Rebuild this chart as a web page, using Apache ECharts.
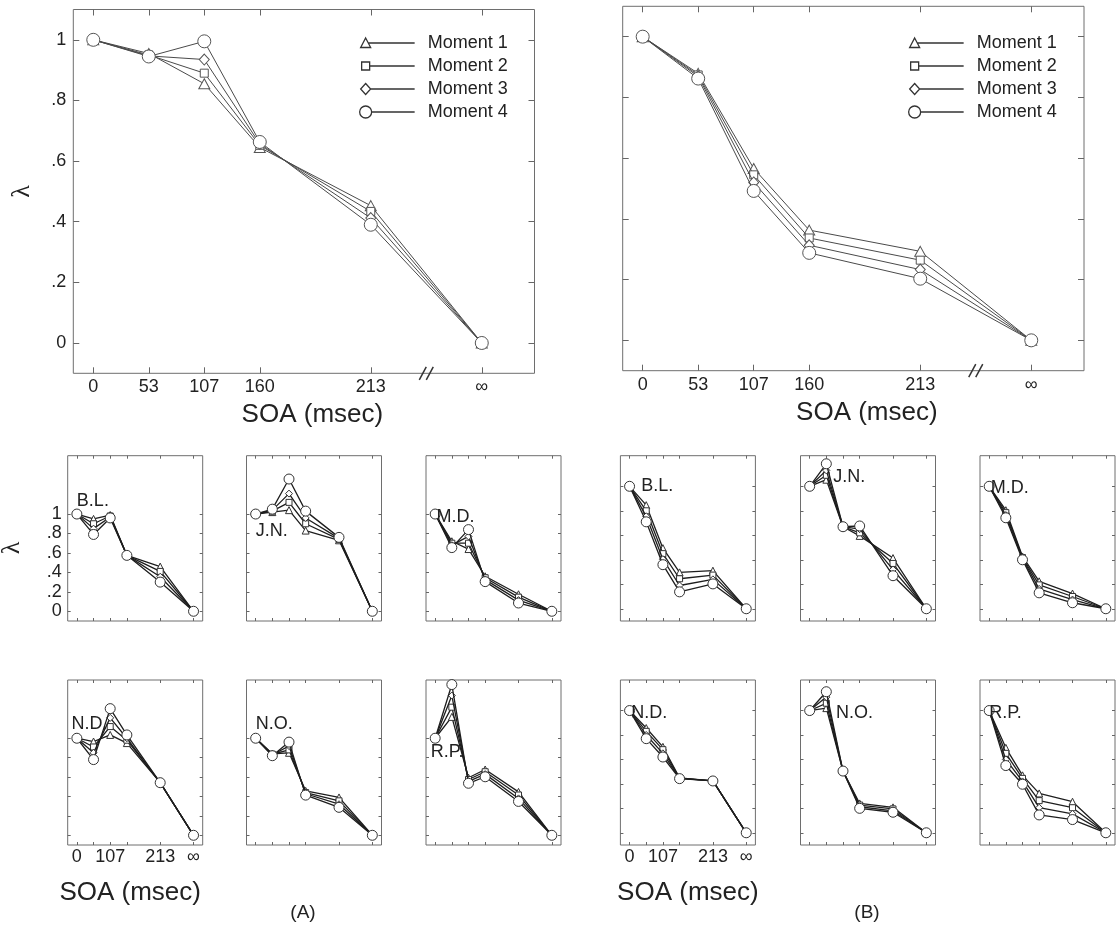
<!DOCTYPE html>
<html><head><meta charset="utf-8">
<script src="https://cdn.jsdelivr.net/npm/echarts@6/dist/echarts.min.js"></script>
<style>html,body{margin:0;padding:0;background:#fff}#c{width:1117px;height:927px}</style>
</head><body><div id="c"></div>
<script>
// ---------- data ----------
const xPositions = [0, 1, 2, 3, 5, 7];              // axis positions of the SOA levels
const xTickLabels = ['0', '53', '107', '160', '213', '∞'];
const smallXLabelPositions = [0, 2, 5, 7];
const smallXTickLabels = ['0', '107', '213', '∞'];
const yTickValues = [0, 0.2, 0.4, 0.6, 0.8, 1];
const yTickLabels = ['0', '.2', '.4', '.6', '.8', '1'];
const momentNames = ['Moment 1', 'Moment 2', 'Moment 3', 'Moment 4'];

// rows: Moment 1..4 ; columns: SOA 0, 53, 107, 160, 213, ∞
const A_pooled = [
  [1, 0.955, 0.855, 0.645, 0.453, 0],
  [1, 0.950, 0.890, 0.652, 0.434, 0],
  [1, 0.947, 0.935, 0.657, 0.412, 0],
  [1, 0.945, 0.995, 0.663, 0.390, 0]
];
const B_pooled = [
  [1, 0.879, 0.566, 0.363, 0.293, 0],
  [1, 0.874, 0.545, 0.337, 0.264, 0],
  [1, 0.869, 0.520, 0.313, 0.233, 0],
  [1, 0.862, 0.492, 0.288, 0.203, 0]
];
const A_BL = [
  [1, 0.95, 0.99, 0.575, 0.46, 0],
  [1, 0.90, 0.98, 0.575, 0.41, 0],
  [1, 0.85, 0.97, 0.575, 0.355, 0],
  [1, 0.79, 0.96, 0.575, 0.30, 0]
];
const A_JN = [
  [1, 1.02, 1.04, 0.83, 0.73, 0],
  [1, 1.03, 1.12, 0.90, 0.74, 0],
  [1, 1.04, 1.21, 0.96, 0.75, 0],
  [1, 1.05, 1.36, 1.03, 0.76, 0]
];
const A_MD = [
  [1, 0.72, 0.64, 0.36, 0.175, 0],
  [1, 0.70, 0.70, 0.345, 0.145, 0],
  [1, 0.68, 0.77, 0.325, 0.115, 0],
  [1, 0.655, 0.84, 0.305, 0.085, 0]
];
const A_ND = [
  [1, 0.966, 1.034, 0.95, 0.542, 0],
  [1, 0.91, 1.12, 0.98, 0.542, 0],
  [1, 0.85, 1.21, 1.00, 0.542, 0],
  [1, 0.78, 1.305, 1.034, 0.542, 0]
];
const A_NO = [
  [1, 0.84, 0.85, 0.458, 0.39, 0],
  [1, 0.835, 0.88, 0.44, 0.355, 0],
  [1, 0.828, 0.92, 0.428, 0.32, 0],
  [1, 0.82, 0.96, 0.414, 0.288, 0]
];
const A_RP = [
  [1, 1.22, 0.593, 0.678, 0.447, 0],
  [1, 1.32, 0.575, 0.655, 0.415, 0],
  [1, 1.44, 0.555, 0.63, 0.38, 0],
  [1, 1.553, 0.536, 0.603, 0.349, 0]
];
const B_BL = [
  [1, 0.846, 0.495, 0.297, 0.311, 0],
  [1, 0.80, 0.45, 0.245, 0.275, 0],
  [1, 0.755, 0.405, 0.19, 0.24, 0],
  [1, 0.71, 0.36, 0.138, 0.203, 0]
];
const B_JN = [
  [1, 1.054, 0.67, 0.595, 0.414, 0],
  [1, 1.09, 0.67, 0.62, 0.37, 0],
  [1, 1.13, 0.67, 0.65, 0.32, 0],
  [1, 1.184, 0.67, 0.676, 0.27, 0]
];
const B_MD = [
  [1, 0.805, 0.427, 0.224, 0.124, 0],
  [1, 0.785, 0.418, 0.195, 0.10, 0],
  [1, 0.765, 0.409, 0.162, 0.075, 0],
  [1, 0.743, 0.40, 0.13, 0.049, 0]
];
const B_ND = [
  [1, 0.857, 0.703, 0.45, 0.424, 0],
  [1, 0.83, 0.68, 0.447, 0.424, 0],
  [1, 0.80, 0.65, 0.445, 0.424, 0],
  [1, 0.77, 0.62, 0.443, 0.424, 0]
];
const B_NO = [
  [1, 1.02, 0.505, 0.24, 0.208, 0],
  [1, 1.06, 0.505, 0.227, 0.195, 0],
  [1, 1.11, 0.505, 0.213, 0.18, 0],
  [1, 1.154, 0.505, 0.20, 0.168, 0]
];
const B_RP = [
  [1, 0.695, 0.47, 0.322, 0.254, 0],
  [1, 0.65, 0.445, 0.263, 0.205, 0],
  [1, 0.60, 0.42, 0.205, 0.155, 0],
  [1, 0.55, 0.397, 0.146, 0.108, 0]
];

// ---------- layout ----------
const FONT = "'Liberation Sans', Arial, Helvetica, 'DejaVu Sans', sans-serif";
const TXT = '#222';
const panels = [
  {data: A_pooled, big: true, rect: [73.3, 9.5, 461.2, 363.8], yMax: 1.1, yLabels: true, xLabels: 'all', xNamePad: [0, 0, 0, 17], yName: true},
  {data: B_pooled, big: true, rect: [622.7, 6.3, 461.3, 364.4], yMax: 1.1, xLabels: 'all', xNamePad: [0, 0, 0, 27]},
  {data: A_BL, rect: [67.7, 455.7, 135, 165.3], yMax: 1.6, yLabels: true, name: 'B.L.', nameAt: [0.0, 1.136]},
  {data: A_JN, rect: [246.5, 455.7, 135, 165.3], yMax: 1.6, name: 'J.N.', nameAt: [0.0, 0.824]},
  {data: A_MD, rect: [426, 455.7, 135, 165.3], yMax: 1.6, name: 'M.D.', nameAt: [0.08, 0.973]},
  {data: A_ND, rect: [67.7, 680, 135, 165], yMax: 1.6, xLabels: 'small', xNamePad: [0, 10, 0, 0], name: 'N.D.', nameAt: [-0.32, 1.143]},
  {data: A_NO, rect: [246.5, 680, 135, 165], yMax: 1.6, name: 'N.O.', nameAt: [0.0, 1.143]},
  {data: A_RP, rect: [426, 680, 135, 165], yMax: 1.6, name: 'R.P.', nameAt: [-0.26, 0.853]},
  {data: B_BL, rect: [620.4, 455.7, 135, 165.3], yMax: 1.25, name: 'B.L.', nameAt: [0.7, 1.0]},
  {data: B_JN, rect: [800.5, 455.7, 135, 165.3], yMax: 1.25, name: 'J.N.', nameAt: [1.42, 1.073]},
  {data: B_MD, rect: [980, 455.7, 135, 165.3], yMax: 1.25, name: 'M.D.', nameAt: [0.1, 0.986]},
  {data: B_ND, rect: [620.4, 680, 135, 165], yMax: 1.25, xLabels: 'small', xNamePad: [0, 0, 0, 0], name: 'N.D.', nameAt: [0.1, 0.98]},
  {data: B_NO, rect: [800.5, 680, 135, 165], yMax: 1.25, name: 'N.O.', nameAt: [1.58, 0.98]},
  {data: B_RP, rect: [980, 680, 135, 165], yMax: 1.25, name: 'R.P.', nameAt: [0.0, 0.98]}
];
const symbols = ['triangle', 'rect', 'diamond', 'circle'];
const bigStyle = {line: '#4a4a4a', width: 1, border: '#555', sizes: [[11, 10], 8, [10, 11], 13], tick: 6};
const smallStyle = {line: '#1e1e1e', width: 1.3, border: '#333', sizes: [7, 6, 7, 10], tick: 3};

function lookup(vals, labels) {
  return function (v) {
    const i = vals.findIndex(t => Math.abs(t - v) < 1e-6);
    return i >= 0 ? labels[i] : '';
  };
}

const grids = [], xAxes = [], yAxes = [], series = [];
const noLine = {show: false, onZero: false};
panels.forEach((p, pi) => {
  const st = p.big ? bigStyle : smallStyle;
  const xMin = p.big ? -0.36 : -0.55, xMax = p.big ? 7.95 : 7.55;
  grids.push({left: p.rect[0], top: p.rect[1], width: p.rect[2], height: p.rect[3],
    show: true, borderColor: '#6e6e6e', borderWidth: 1, backgroundColor: 'transparent',
    containLabel: false, outerBoundsMode: 'none'});
  const tickX = {show: true, inside: true, length: st.tick, customValues: xPositions, lineStyle: {color: '#666', width: 1}};
  const tickY = {show: true, inside: true, length: st.tick, customValues: yTickValues, lineStyle: {color: '#666', width: 1}};
  const xLab = p.xLabels === 'all'
    ? {show: true, customValues: xPositions, formatter: lookup(xPositions, xTickLabels), fontSize: 18, color: TXT, fontFamily: FONT, margin: 5}
    : p.xLabels === 'small'
      ? {show: true, customValues: smallXLabelPositions, formatter: lookup(smallXLabelPositions, smallXTickLabels), fontSize: 18, color: TXT, fontFamily: FONT, margin: 3}
      : {show: false};
  const xNameCfg = p.xLabels
    ? {name: 'SOA (msec)', nameLocation: 'middle', nameGap: p.big ? 29 : 35,
       nameTextStyle: {fontSize: 26, color: TXT, fontFamily: FONT, padding: p.xNamePad}}
    : {};
  xAxes.push(Object.assign({gridIndex: pi, type: 'value', position: 'bottom', min: xMin, max: xMax,
    axisLine: noLine, axisTick: tickX, axisLabel: xLab, splitLine: {show: false}}, xNameCfg));
  xAxes.push({gridIndex: pi, type: 'value', position: 'top', min: xMin, max: xMax,
    axisLine: noLine, axisTick: tickX, axisLabel: {show: false}, splitLine: {show: false}});
  const yLab = p.yLabels
    ? {show: true, customValues: yTickValues, formatter: lookup(yTickValues, yTickLabels), fontSize: 18, color: TXT, fontFamily: FONT, margin: p.big ? 7 : 6}
    : {show: false};
  const yNameCfg = p.yName
    ? {name: 'λ', nameLocation: 'middle', nameGap: 38, nameRotate: 90, nameTextStyle: {fontSize: 26, color: TXT, fontFamily: "'Liberation Serif', 'DejaVu Serif', serif"}}
    : {};
  yAxes.push(Object.assign({gridIndex: pi, type: 'value', position: 'left', min: -0.1, max: p.yMax,
    axisLine: noLine, axisTick: tickY, axisLabel: yLab, splitLine: {show: false}}, yNameCfg));
  yAxes.push({gridIndex: pi, type: 'value', position: 'right', min: -0.1, max: p.yMax,
    axisLine: noLine, axisTick: tickY, axisLabel: {show: false}, splitLine: {show: false}});
  for (let m = 0; m < 4; m++) {
    series.push({
      type: 'line', name: momentNames[m], xAxisIndex: 2 * pi, yAxisIndex: 2 * pi,
      data: xPositions.map((x, i) => [x, p.data[m][i]]),
      symbol: symbols[m], symbolSize: st.sizes[m], showAllSymbol: true,
      lineStyle: {color: st.line, width: st.width},
      itemStyle: {color: '#fff', borderColor: st.border, borderWidth: 1},
      z: 2 + m, silent: true, emphasis: {disabled: true}, animation: false
    });
  }
});

const legendIcons = [
  'path://M0 0M64 14M7 2L12 11.5L2 11.5ZM9.6 7L56 7',
  'path://M0 0M64 14M3 3L11 3L11 11L3 11ZM11 7L56 7',
  'path://M0 0M64 14M7 1.5L12 7L7 12.5L2 7ZM12 7L56 7',
  'path://M0 0M64 14M13 7A6 6 0 1 1 1 7A6 6 0 1 1 13 7ZM13 7L56 7'
];
const legendData = momentNames.map((n, i) => ({name: n, icon: legendIcons[i]}));
function makeLegend(left) {
  return {left: left, top: 34, orient: 'vertical', itemWidth: 64, itemHeight: 14, itemGap: 5,
    selectedMode: false, data: legendData, padding: 0,
    itemStyle: {color: '#fff', borderColor: '#333', borderWidth: 1.3},
    textStyle: {fontSize: 18, lineHeight: 18, color: TXT, fontFamily: FONT}};
}

const chart = echarts.init(document.getElementById('c'), null, {renderer: 'canvas'});
chart.setOption({
  animation: false,
  backgroundColor: '#fff',
  grid: grids, xAxis: xAxes, yAxis: yAxes, series: series,
  legend: [makeLegend(358), makeLegend(907)]
});

// ---------- annotations ----------
const gfx = [];
panels.forEach((p, pi) => {
  if (!p.name) return;
  const pt = chart.convertToPixel({seriesIndex: 4 * pi}, p.nameAt);
  gfx.push({type: 'text', x: pt[0], y: pt[1], silent: true, z: 100,
    style: {text: p.name, fontSize: 18, fontFamily: FONT, fill: TXT, textAlign: 'left', textVerticalAlign: 'middle'}});
});
[0, 1].forEach(pi => {
  const pt = chart.convertToPixel({seriesIndex: 4 * pi}, [6, -0.1]);
  [-3.5, 3.5].forEach(dx => {
    gfx.push({type: 'line', silent: true, z: 100,
      shape: {x1: pt[0] + dx - 3.5, y1: pt[1] + 6.5, x2: pt[0] + dx + 3.5, y2: pt[1] - 6.5},
      style: {stroke: '#333', lineWidth: 1.5}});
  });
});
gfx.push({type: 'text', x: 12, y: 548, rotation: Math.PI / 2, silent: true,
  style: {text: 'λ', fontSize: 26, fontFamily: "'Liberation Serif', 'DejaVu Serif', serif", fill: TXT, textAlign: 'center', textVerticalAlign: 'middle'}});
gfx.push({type: 'text', x: 303, y: 913, silent: true,
  style: {text: '(A)', fontSize: 19, fontFamily: FONT, fill: TXT, textAlign: 'center', textVerticalAlign: 'middle'}});
gfx.push({type: 'text', x: 867, y: 913, silent: true,
  style: {text: '(B)', fontSize: 19, fontFamily: FONT, fill: TXT, textAlign: 'center', textVerticalAlign: 'middle'}});
chart.setOption({graphic: gfx});
</script>
</body></html>
